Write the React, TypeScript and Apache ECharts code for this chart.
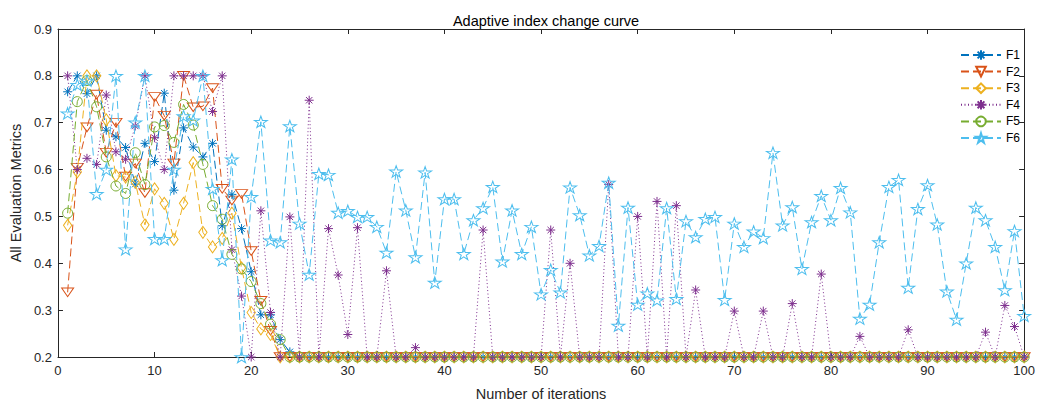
import { useEffect, useRef } from "react";
import * as echarts from "echarts";

// Iteration numbers on the x axis
const iterations: number[] = Array.from({ length: 100 }, (_, i) => i + 1);

const seriesNames = ["F1", "F2", "F3", "F4", "F5", "F6"];

const f1 = [
  0.766, 0.8, 0.762, 0.8, 0.684, 0.67, 0.647, 0.569, 0.656, 0.617,
  0.763, 0.556, 0.689, 0.648, 0.627, 0.656, 0.48, 0.547, 0.474, 0.382,
  0.29, 0.29, 0.237, 0.211, 0.2, 0.2, 0.2, 0.2, 0.2, 0.2,
  0.2, 0.2, 0.2, 0.2, 0.2, 0.2, 0.2, 0.2, 0.2, 0.2,
  0.2, 0.2, 0.2, 0.2, 0.2, 0.2, 0.2, 0.2, 0.2, 0.2,
  0.2, 0.2, 0.2, 0.2, 0.2, 0.2, 0.2, 0.2, 0.2, 0.2,
  0.2, 0.2, 0.2, 0.2, 0.2, 0.2, 0.2, 0.2, 0.2, 0.2,
  0.2, 0.2, 0.2, 0.2, 0.2, 0.2, 0.2, 0.2, 0.2, 0.2,
  0.2, 0.2, 0.2, 0.2, 0.2, 0.2, 0.2, 0.2, 0.2, 0.2,
  0.2, 0.2, 0.2, 0.2, 0.2, 0.2, 0.2, 0.2, 0.2, 0.2,
];

const f2 = [
  0.338, 0.604, 0.69, 0.76, 0.636, 0.7, 0.585, 0.613, 0.55, 0.755,
  0.715, 0.613, 0.8, 0.733, 0.735, 0.774, 0.559, 0.534, 0.548, 0.426,
  0.32, 0.256, 0.2, 0.2, 0.2, 0.2, 0.2, 0.2, 0.2, 0.2,
  0.2, 0.2, 0.2, 0.2, 0.2, 0.2, 0.2, 0.2, 0.2, 0.2,
  0.2, 0.2, 0.2, 0.2, 0.2, 0.2, 0.2, 0.2, 0.2, 0.2,
  0.2, 0.2, 0.2, 0.2, 0.2, 0.2, 0.2, 0.2, 0.2, 0.2,
  0.2, 0.2, 0.2, 0.2, 0.2, 0.2, 0.2, 0.2, 0.2, 0.2,
  0.2, 0.2, 0.2, 0.2, 0.2, 0.2, 0.2, 0.2, 0.2, 0.2,
  0.2, 0.2, 0.2, 0.2, 0.2, 0.2, 0.2, 0.2, 0.2, 0.2,
  0.2, 0.2, 0.2, 0.2, 0.2, 0.2, 0.2, 0.2, 0.2, 0.2,
];

const f3 = [
  0.481, 0.595, 0.8, 0.8, 0.706, 0.587, 0.584, 0.573, 0.482, 0.559,
  0.528, 0.451, 0.528, 0.615, 0.466, 0.435, 0.453, 0.507, 0.39, 0.295,
  0.26, 0.248, 0.2, 0.2, 0.2, 0.2, 0.2, 0.2, 0.2, 0.2,
  0.2, 0.2, 0.2, 0.2, 0.2, 0.2, 0.2, 0.2, 0.2, 0.2,
  0.2, 0.2, 0.2, 0.2, 0.2, 0.2, 0.2, 0.2, 0.2, 0.2,
  0.2, 0.2, 0.2, 0.2, 0.2, 0.2, 0.2, 0.2, 0.2, 0.2,
  0.2, 0.2, 0.2, 0.2, 0.2, 0.2, 0.2, 0.2, 0.2, 0.2,
  0.2, 0.2, 0.2, 0.2, 0.2, 0.2, 0.2, 0.2, 0.2, 0.2,
  0.2, 0.2, 0.2, 0.2, 0.2, 0.2, 0.2, 0.2, 0.2, 0.2,
  0.2, 0.2, 0.2, 0.2, 0.2, 0.2, 0.2, 0.2, 0.2, 0.2,
];

const f4 = [
  0.8, 0.6, 0.624, 0.611, 0.759, 0.638, 0.622, 0.693, 0.8, 0.668,
  0.6, 0.8, 0.8, 0.8, 0.8, 0.724, 0.8, 0.429, 0.33, 0.2,
  0.512, 0.295, 0.2, 0.499, 0.2, 0.748, 0.2, 0.474, 0.375, 0.248,
  0.476, 0.2, 0.2, 0.384, 0.2, 0.2, 0.22, 0.2, 0.2, 0.2,
  0.2, 0.2, 0.2, 0.471, 0.2, 0.2, 0.2, 0.2, 0.2, 0.2,
  0.471, 0.2, 0.4, 0.2, 0.2, 0.2, 0.568, 0.2, 0.2, 0.5,
  0.2, 0.532, 0.2, 0.523, 0.2, 0.343, 0.2, 0.2, 0.2, 0.298,
  0.2, 0.2, 0.298, 0.2, 0.2, 0.314, 0.2, 0.2, 0.377, 0.2,
  0.2, 0.2, 0.244, 0.2, 0.2, 0.2, 0.2, 0.258, 0.2, 0.2,
  0.2, 0.2, 0.2, 0.2, 0.2, 0.253, 0.2, 0.31, 0.265, 0.2,
];

const f5 = [
  0.507, 0.745, 0.79, 0.734, 0.627, 0.565, 0.549, 0.636, 0.568, 0.691,
  0.694, 0.658, 0.739, 0.695, 0.611, 0.523, 0.494, 0.419, 0.388, 0.361,
  0.314, 0.27, 0.237, 0.2, 0.2, 0.2, 0.2, 0.2, 0.2, 0.2,
  0.2, 0.2, 0.2, 0.2, 0.2, 0.2, 0.2, 0.2, 0.2, 0.2,
  0.2, 0.2, 0.2, 0.2, 0.2, 0.2, 0.2, 0.2, 0.2, 0.2,
  0.2, 0.2, 0.2, 0.2, 0.2, 0.2, 0.2, 0.2, 0.2, 0.2,
  0.2, 0.2, 0.2, 0.2, 0.2, 0.2, 0.2, 0.2, 0.2, 0.2,
  0.2, 0.2, 0.2, 0.2, 0.2, 0.2, 0.2, 0.2, 0.2, 0.2,
  0.2, 0.2, 0.2, 0.2, 0.2, 0.2, 0.2, 0.2, 0.2, 0.2,
  0.2, 0.2, 0.2, 0.2, 0.2, 0.2, 0.2, 0.2, 0.2, 0.2,
];

const f6 = [
  0.72, 0.781, 0.79, 0.548, 0.6, 0.8, 0.43, 0.701, 0.8, 0.452,
  0.452, 0.6, 0.714, 0.705, 0.8, 0.559, 0.407, 0.622, 0.2, 0.542,
  0.702, 0.449, 0.445, 0.693, 0.485, 0.376, 0.591, 0.589, 0.508, 0.512,
  0.499, 0.499, 0.478, 0.423, 0.596, 0.513, 0.413, 0.594, 0.359, 0.537,
  0.537, 0.42, 0.492, 0.518, 0.563, 0.404, 0.513, 0.42, 0.478, 0.334,
  0.386, 0.338, 0.562, 0.503, 0.417, 0.437, 0.572, 0.267, 0.519, 0.312,
  0.336, 0.321, 0.518, 0.324, 0.49, 0.456, 0.495, 0.499, 0.322, 0.485,
  0.435, 0.468, 0.454, 0.636, 0.481, 0.52, 0.388, 0.488, 0.544, 0.492,
  0.561, 0.509, 0.282, 0.312, 0.445, 0.563, 0.578, 0.348, 0.516, 0.567,
  0.483, 0.34, 0.28, 0.4, 0.519, 0.492, 0.435, 0.343, 0.469, 0.288,
];

const xTicks = [0, 10, 20, 30, 40, 50, 60, 70, 80, 90, 100];
const yTicks = [0.2, 0.3, 0.4, 0.5, 0.6, 0.7, 0.8, 0.9];

const FONT = "Liberation Sans, Arial, Helvetica, sans-serif";
const AXIS = "#262626";

// Marker outlines
const SYM_ASTERISK = "path://M5 0L5 10M0 5L10 5M1.46 1.46L8.54 8.54M1.46 8.54L8.54 1.46";
const SYM_TRI_DOWN = "path://M0 0L10 0L5 8.66Z";
const SYM_DIAMOND = "path://M5 0L10 6L5 12L0 6Z";
const SYM_STAR =
  "path://M10 0L12.245 6.91L19.511 6.91L13.633 11.18L15.878 18.09L10 13.82L4.122 18.09L6.367 11.18L0.489 6.91L7.755 6.91Z";

const styles = [
  { color: "#0072BD", symbol: SYM_ASTERISK, size: [9, 9], dash: [8, 4] },
  { color: "#D95319", symbol: SYM_TRI_DOWN, size: [12, 10], dash: [8, 4] },
  { color: "#EDB120", symbol: SYM_DIAMOND, size: [10, 12], dash: [8, 4] },
  { color: "#7E2F8E", symbol: SYM_ASTERISK, size: [9, 9], dash: [1, 2.5] },
  { color: "#77AC30", symbol: "circle", size: [10, 10], dash: [8, 4] },
  { color: "#4DBEEE", symbol: SYM_STAR, size: [13, 12], dash: [8, 4] },
];

const seriesValues = [f1, f2, f3, f4, f5, f6];

export default function App() {
  const ref = useRef<HTMLDivElement>(null);

  useEffect(() => {
    if (!ref.current) return;
    const chart = echarts.init(ref.current, null, { renderer: "svg" });

    const series = seriesNames.map((name, k) => {
      const s = styles[k];
      return {
        type: "line",
        name,
        data: seriesValues[k].map((v, i) => [iterations[i], v]),
        symbol: s.symbol,
        symbolSize: s.size,
        symbolKeepAspect: true,
        showAllSymbol: true,
        lineStyle: { color: s.color, width: 1, type: s.dash },
        itemStyle: {
          color: "rgba(255,255,255,0)",
          borderColor: s.color,
          borderWidth: 1,
        },
        emphasis: { disabled: true },
        z: 2 + k,
      };
    });

    const tickLine = { lineStyle: { color: AXIS, width: 1 } };

    chart.setOption({
      animation: false,
      backgroundColor: "#ffffff",
      textStyle: { fontFamily: FONT },
      title: {
        text: "Adaptive index change curve",
        left: 541,
        top: 8,
        textAlign: "center",
        textStyle: { fontFamily: FONT, fontSize: 14.5, fontWeight: "normal", color: "#000" },
      },
      legend: {
        data: seriesNames,
        orient: "vertical",
        left: 955,
        top: 44,
        itemWidth: 40,
        itemHeight: 12,
        itemGap: 4.6,
        textStyle: { fontFamily: FONT, fontSize: 12, color: "#000" },
      },
      grid: { left: 53, right: 8, top: 29, bottom: 40 },
      xAxis: [
        {
          type: "value",
          position: "bottom",
          min: xTicks[0],
          max: xTicks[xTicks.length - 1],
          interval: 10,
          name: "Number of iterations",
          nameLocation: "middle",
          nameGap: 29,
          nameTextStyle: { fontFamily: FONT, fontSize: 14.5, color: AXIS },
          axisLine: { show: true, onZero: false, ...tickLine },
          axisTick: { show: true, inside: true, length: 5, ...tickLine },
          axisLabel: { fontFamily: FONT, fontSize: 13, color: AXIS, margin: 7 },
          splitLine: { show: false },
        },
        {
          type: "value",
          position: "top",
          min: xTicks[0],
          max: xTicks[xTicks.length - 1],
          interval: 10,
          axisLine: { show: true, onZero: false, ...tickLine },
          axisTick: { show: true, inside: true, length: 5, ...tickLine },
          axisLabel: { show: false },
          splitLine: { show: false },
        },
      ],
      yAxis: [
        {
          type: "value",
          position: "left",
          min: yTicks[0],
          max: yTicks[yTicks.length - 1],
          interval: 0.1,
          name: "All Evaluation Metrics",
          nameLocation: "middle",
          nameGap: 33,
          nameTextStyle: { fontFamily: FONT, fontSize: 14.5, color: AXIS },
          axisLine: { show: true, onZero: false, ...tickLine },
          axisTick: { show: true, inside: true, length: 5, ...tickLine },
          axisLabel: {
            fontFamily: FONT,
            fontSize: 13,
            color: AXIS,
            margin: 6,
            formatter: (v: number) => v.toFixed(1),
          },
          splitLine: { show: false },
        },
        {
          type: "value",
          position: "right",
          min: yTicks[0],
          max: yTicks[yTicks.length - 1],
          interval: 0.1,
          axisLine: { show: true, onZero: false, ...tickLine },
          axisTick: { show: true, inside: true, length: 5, ...tickLine },
          axisLabel: { show: false },
          splitLine: { show: false },
        },
      ],
      series,
    });

    return () => chart.dispose();
  }, []);

  return (
    <div
      ref={ref}
      style={{ position: "fixed", left: 0, top: 0, width: 1038, height: 406, background: "#fff" }}
    />
  );
}
